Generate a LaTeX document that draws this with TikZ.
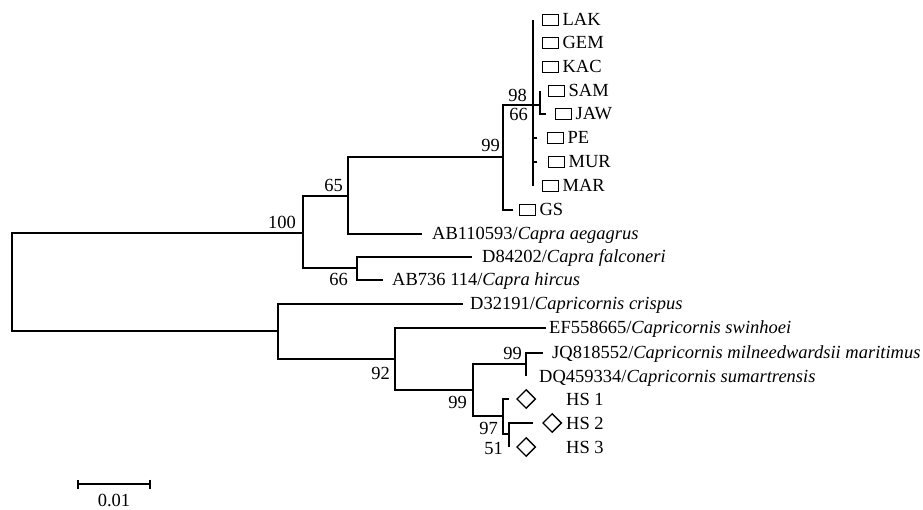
\documentclass[tikz,border=0pt]{standalone}
\usepackage{fontspec}
\setmainfont{Liberation Serif}
\usetikzlibrary{arrows.meta,positioning,shapes.geometric}
\newcommand{\fs}{\fontsize{18.5}{20}\selectfont}
\tikzset{>=Stealth,
  tree/.style={line width=1.7pt},
  boxmk/.style={draw, line width=1.4pt, minimum width=16pt, minimum height=11pt, inner sep=0pt},
  diamk/.style={draw, diamond, line width=1.4pt, minimum width=19pt, minimum height=19pt, inner sep=0pt},
  tiplab/.style={inner sep=0pt, text height=12pt, text depth=0pt, font=\fs},
  bs/.style={inner sep=0pt, text height=12pt, text depth=0pt, font=\fs}}

\begin{document}
\begin{tikzpicture}[x=1pt, y=-1pt]
  \useasboundingbox (0,0) rectangle (923,510);
  % internal nodes
  \coordinate (root) at (12,282);
  \coordinate (n100) at (303,233);
  \coordinate (n65) at (348,196);
  \coordinate (n99a) at (503,157);
  \coordinate (n98) at (533,105);
  \coordinate (nSJ) at (540,105);
  \coordinate (n66g) at (357,268);
  \coordinate (nCap) at (278,331);
  \coordinate (n92) at (395,359);
  \coordinate (n99b) at (473,390);
  \coordinate (n99c) at (526,364);
  \coordinate (n97) at (503,416);
  \coordinate (n51) at (509,434);
  % tips
  \foreach \t/\x/\y in {LAK/533/20, GEM/533/43, KAC/533/67, SAM/540/91, JAW/546/114,
      PE/537/138, MUR/537/162, MAR/533/186, GS/513/210, Aegag/422/234, Falc/472/257,
      Hirc/383/280, Crisp/463/304, Swin/546/328, JQ/543/353, DQ/526/376,
      HS1/509/399, HS2/533/423, HS3/509/447}
    \coordinate (t\t) at (\x,\y);
  % branches
  \draw[tree] (n100) -| (root) |- (nCap);
  \draw[tree] (n65) -| (n100) |- (n66g);
  \draw[tree] (n99a) -| (n65) |- (tAegag);
  \draw[tree] (n98) -| (n99a) |- (tGS);
  \draw[tree] (tLAK) -| (n98) |- (tMAR);
  \draw[tree] (n98) -- (nSJ);
  \draw[tree] (tSAM) -| (nSJ) |- (tJAW);
  \draw[tree] (n98 |- tPE) -- (tPE);
  \draw[tree] (n98 |- tMUR) -- (tMUR);
  \draw[tree] (tFalc) -| (n66g) |- (tHirc);
  \draw[tree] (tCrisp) -| (nCap) |- (n92);
  \draw[tree] (tSwin) -| (n92) |- (n99b);
  \draw[tree] (n99c) -| (n99b) |- (n97);
  \draw[tree] (tJQ) -| (n99c) |- (tDQ);
  \draw[tree] (tHS1) -| (n97) |- (n51);
  \draw[tree] (tHS2) -| (n51) |- (tHS3);
  % bootstrap values
  \node[bs, above left=4pt and 7pt of n100] (b100) {100};
  \node[bs, above left=4pt and 5pt of n65] (b65) {65};
  \node[bs, above left=5pt and 3pt of n99a] (b99a) {99};
  \node[bs, above left=3pt and 6pt of n98] (b98) {98};
  \node[bs, below left=3pt and 5pt of n98] (b66s) {66};
  \node[bs, below left=5pt and 9pt of n66g] (b66g) {66};
  \node[bs, below left=8pt and 5pt of n92] (b92) {92};
  \node[bs, below left=6pt and 6pt of n99b] (b99b) {99};
  \node[bs, above left=4pt and 4pt of n99c] (b99c) {99};
  \node[bs, below left=6pt and 5pt of n97] (b97) {97};
  \node[bs, below left=8pt and 6pt of n51] (b51) {51};
  % samples with box markers
  \foreach \t/\d in {LAK/9pt, GEM/9pt, KAC/9pt, SAM/8pt, JAW/9pt, PE/10pt, MUR/11pt, MAR/9pt, GS/6pt} {
    \node[boxmk, right=\d of t\t] (m\t) {};
    \node[tiplab, right=3pt of m\t] (l\t) {\t};
  }
  % reference sequences
  \node[tiplab, right=10pt of tAegag] (lAegag) {AB110593/\textit{Capra aegagrus}};
  \node[tiplab, right=10pt of tFalc] (lFalc) {D84202/\textit{Capra falconeri}};
  \node[tiplab, right=9pt of tHirc] (lHirc) {AB736 114/\textit{Capra hircus}};
  \node[tiplab, right=7pt of tCrisp] (lCrisp) {D32191/\textit{Capricornis crispus}};
  \node[tiplab, right=3pt of tSwin] (lSwin) {EF558665/\textit{Capricornis swinhoei}};
  \node[tiplab, right=9pt of tJQ] (lJQ) {JQ818552/\textit{Capricornis milneedwardsii maritimus}};
  \node[tiplab, right=13pt of tDQ] (lDQ) {DQ459334/\textit{Capricornis sumartrensis}};
  % HS samples
  \node[diamk, right=7pt of tHS1] (mHS1) {};
  \node[diamk, right=9pt of tHS2] (mHS2) {};
  \node[diamk, right=7pt of tHS3] (mHS3) {};
  \node[tiplab, anchor=west] (lHS1) at (566,399) {HS 1};
  \node[tiplab, anchor=west] (lHS2) at (566,423) {HS 2};
  \node[tiplab, anchor=west] (lHS3) at (566,447) {HS 3};
  % scale bar
  \coordinate (sbL) at (77,484);
  \coordinate (sbR) at (151,484);
  \draw[tree, {Bar[width=9pt]}-{Bar[width=9pt]}] (sbL) -- (sbR);
  \node[bs] (sblab) at (114,500) {0.01};
\end{tikzpicture}
\end{document}
